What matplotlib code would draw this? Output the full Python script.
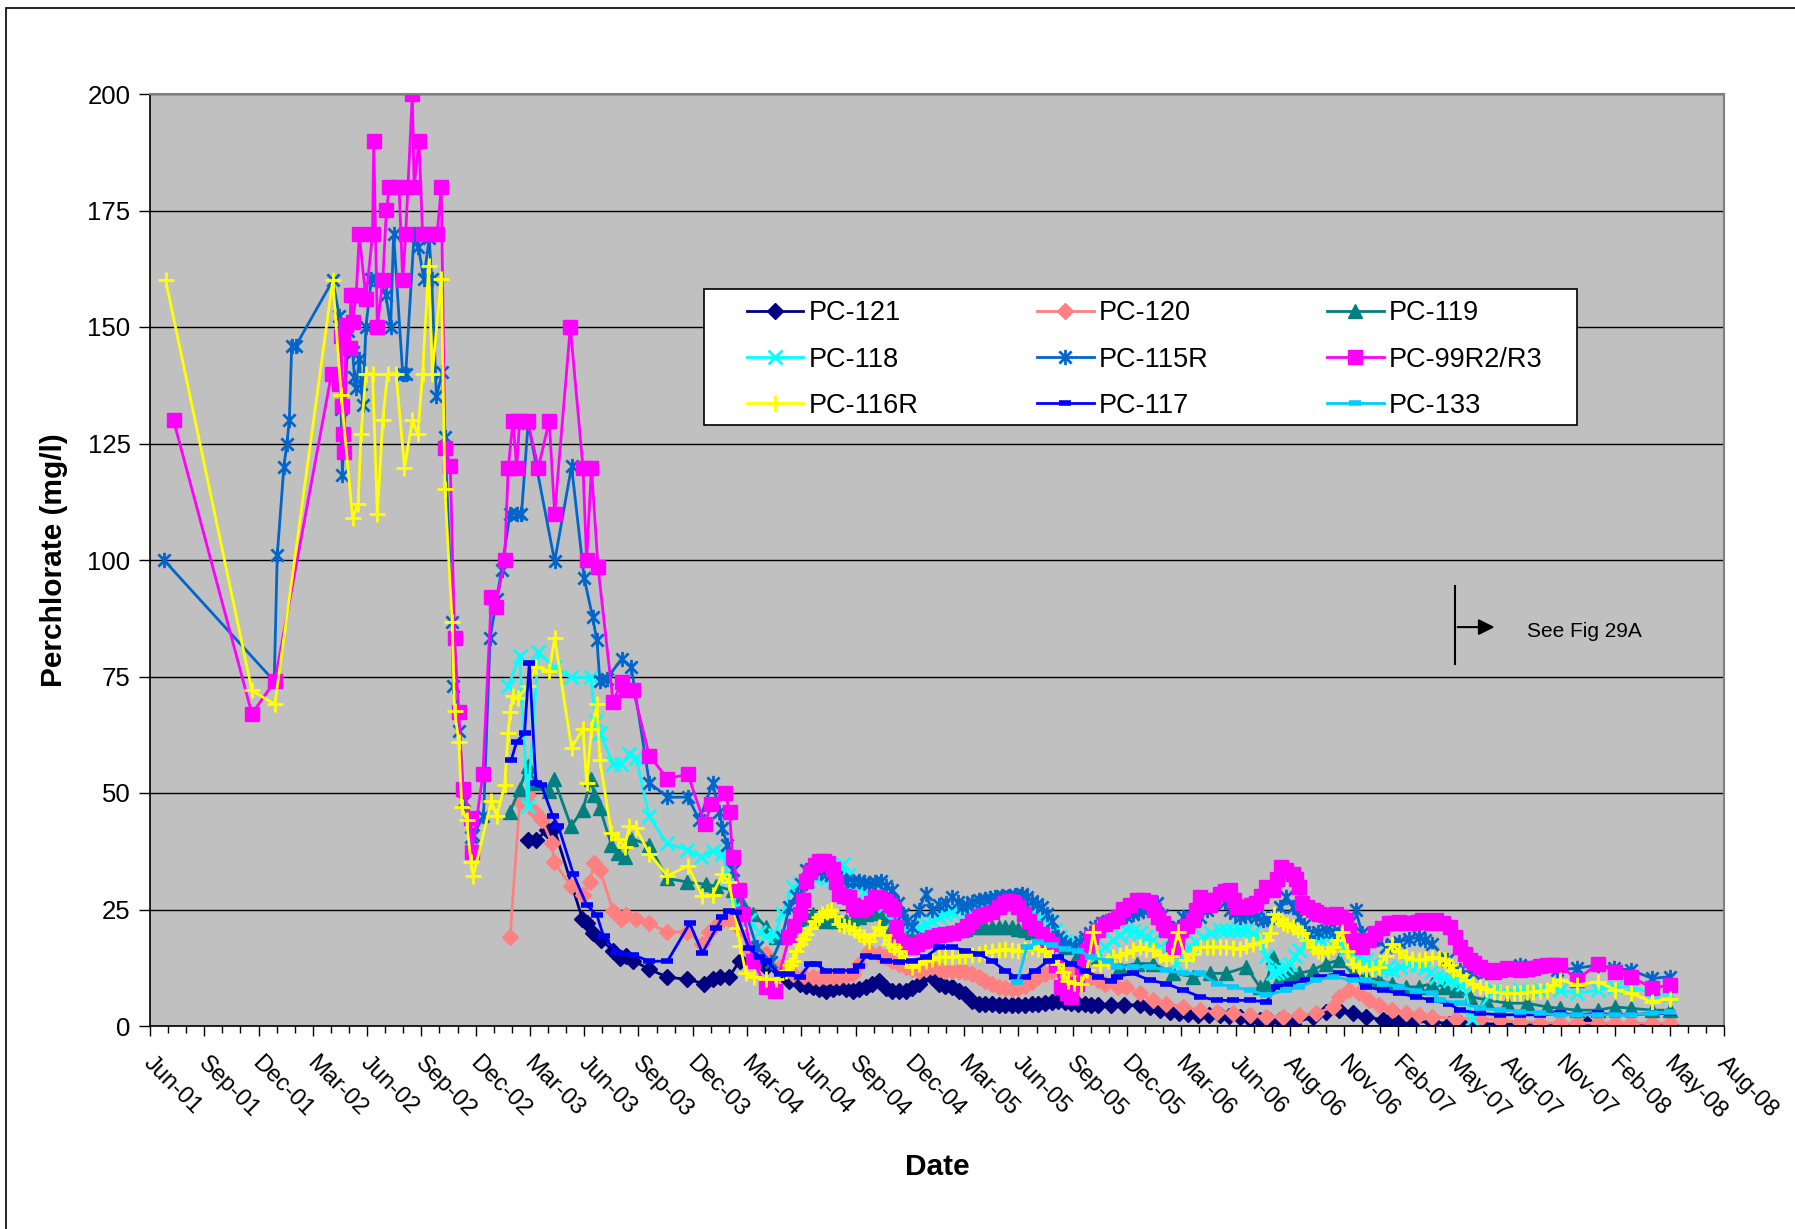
import matplotlib
matplotlib.use('Agg')
import matplotlib.pyplot as plt
import matplotlib.dates as mdates
import matplotlib.transforms as mtransforms
from matplotlib.path import Path
from matplotlib.patches import Rectangle
import pandas as pd

plt.rcParams['font.family'] = ['Liberation Sans', 'DejaVu Sans']

# ---- data: (sample date, perchlorate mg/l) ----
pc121 = [
    ("2003-03-15", 40), ("2003-03-29", 40), ("2003-04-17", 42), ("2003-04-28", 42.4),
    ("2003-06-14", 23), ("2003-06-22", 22), ("2003-07-02", 20), ("2003-07-15", 18.4),
    ("2003-08-04", 16.2), ("2003-08-15", 14.5), ("2003-08-26", 15), ("2003-09-06", 14),
    ("2003-10-03", 12.2), ("2003-11-01", 10.5), ("2003-12-05", 10), ("2004-01-02", 9.1),
    ("2004-01-16", 10), ("2004-01-28", 10.5), ("2004-02-12", 10.5), ("2004-03-01", 14),
    ("2004-03-28", 14.8), ("2004-04-14", 12.6), ("2004-05-06", 11.9), ("2004-05-22", 9.7),
    ("2004-06-08", 9), ("2004-06-30", 8.3), ("2004-07-22", 7.6), ("2004-08-13", 8.3),
    ("2004-09-04", 7.6), ("2004-09-26", 8.3), ("2004-10-18", 9.7), ("2004-11-09", 7.6),
    ("2004-12-01", 7.6), ("2004-12-23", 9), ("2005-01-03", 11.2), ("2005-01-14", 10.5),
    ("2005-01-25", 9), ("2005-02-16", 8.3), ("2005-03-10", 6.9), ("2005-03-21", 5.4),
    ("2005-04-01", 4.7), ("2005-04-23", 4.7), ("2005-05-15", 4.4), ("2005-06-06", 4.4),
    ("2005-06-28", 4.7), ("2005-07-20", 5), ("2005-08-11", 5.4), ("2005-09-02", 5),
    ("2005-09-24", 4.7), ("2005-10-16", 4.6), ("2005-11-07", 4.4), ("2005-11-28", 4.5),
    ("2005-12-24", 4.5), ("2006-01-10", 4), ("2006-01-26", 3.4), ("2006-02-12", 3),
    ("2006-02-28", 2.7), ("2006-03-15", 2.5), ("2006-03-31", 2.3), ("2006-04-18", 2.3),
    ("2006-05-06", 2.3), ("2006-05-22", 2.2), ("2006-06-08", 2), ("2006-06-25", 1.6),
    ("2006-07-11", 1.3), ("2006-07-27", 1.3), ("2006-08-13", 1.3), ("2006-08-25", 1),
    ("2006-09-04", 0.5), ("2006-10-07", 2), ("2006-10-29", 3), ("2006-11-20", 3.4),
    ("2006-12-12", 2.7), ("2007-01-03", 2), ("2007-01-31", 1.3), ("2007-02-10", 1),
    ("2007-02-27", 0.9), ("2007-03-20", 0.9), ("2007-04-23", 0.9), ("2007-05-21", 0.5),
    ("2007-06-08", 0.6), ("2007-07-12", 0.5), ("2007-08-14", 0.4), ("2007-09-16", 0.4),
    ("2007-10-19", 0.4), ("2007-11-21", 0.4), ("2007-12-19", 0.4), ("2008-01-05", 0.4),
    ("2008-02-21", 0.4), ("2008-03-18", 0.4), ("2008-04-22", 0.4), ("2008-05-21", 0.4),
    ("2004-06-19", 8.6), ("2004-07-11", 7.9), ("2004-08-02", 7.9), ("2004-08-24", 8),
    ("2004-09-15", 8), ("2004-10-07", 9), ("2004-10-29", 8.2), ("2004-11-20", 7.6),
    ("2004-12-12", 8.2), ("2005-02-05", 8.6), ("2005-02-27", 7.5), ("2005-04-12", 4.7),
    ("2005-05-04", 4.5), ("2005-05-26", 4.4), ("2005-06-17", 4.5), ("2005-07-09", 4.8),
    ("2005-07-31", 5.2), ("2005-08-22", 5.2), ("2005-09-13", 4.8), ("2005-10-05", 4.6),
]

pc120 = [
    ("2003-02-14", 19), ("2003-03-02", 48), ("2003-03-15", 49.5), ("2003-03-28", 46),
    ("2003-04-08", 44.2), ("2003-04-24", 39.3), ("2003-04-28", 35.3), ("2003-05-26", 30),
    ("2003-06-15", 28.2), ("2003-06-26", 30.9), ("2003-07-03", 34.9), ("2003-07-13", 33.5),
    ("2003-08-04", 24.7), ("2003-08-17", 22.9), ("2003-08-26", 23.8), ("2003-09-11", 22.9),
    ("2003-10-03", 22), ("2003-11-01", 20.2), ("2003-12-05", 20.2), ("2003-12-30", 17.5),
    ("2004-01-10", 20.2), ("2004-01-27", 22), ("2004-02-12", 22.9), ("2004-02-29", 21.1),
    ("2004-03-15", 16.7), ("2004-03-28", 16.2), ("2004-04-14", 15.5), ("2004-05-06", 12.6),
    ("2004-05-28", 11.2), ("2004-06-15", 10.8), ("2004-06-30", 10.5), ("2004-07-22", 10.5),
    ("2004-08-13", 10.5), ("2004-09-04", 11.2), ("2004-09-15", 13.3), ("2004-10-01", 16.2),
    ("2004-10-18", 15.5), ("2004-11-09", 14), ("2004-12-01", 12.6), ("2004-12-23", 11.9),
    ("2005-01-14", 12.6), ("2005-02-05", 11.9), ("2005-02-27", 11.9), ("2005-03-21", 11.2),
    ("2005-04-12", 9.7), ("2005-05-04", 8.3), ("2005-05-26", 8), ("2005-06-17", 8.6),
    ("2005-07-09", 10.5), ("2005-07-31", 11.9), ("2005-08-22", 12.6), ("2005-09-13", 11.9),
    ("2005-10-05", 10.5), ("2005-10-27", 9), ("2005-11-18", 8.3), ("2005-12-02", 8.4),
    ("2005-12-24", 7), ("2006-01-15", 5.5), ("2006-02-06", 4.8), ("2006-03-06", 4.1),
    ("2006-04-03", 3.4), ("2006-05-01", 3), ("2006-05-28", 2.7), ("2006-06-25", 2.3),
    ("2006-07-22", 2), ("2006-08-18", 2), ("2006-09-15", 2.3), ("2006-10-12", 2.7),
    ("2006-11-09", 4.1), ("2006-11-20", 6.3), ("2006-12-07", 7.7), ("2006-12-23", 7),
    ("2007-01-08", 5.5), ("2007-01-25", 4.5), ("2007-02-16", 3.4), ("2007-03-10", 2.7),
    ("2007-04-01", 2.3), ("2007-04-23", 2), ("2007-06-01", 1.6), ("2007-07-12", 1.6),
    ("2007-08-14", 1.2), ("2007-09-16", 0.9), ("2007-10-19", 0.7), ("2007-11-21", 0.6),
    ("2007-12-19", 0.6), ("2008-01-23", 0.6), ("2008-02-21", 0.6), ("2008-03-18", 0.6),
    ("2008-04-22", 0.6), ("2008-05-21", 0.6),
    ("2004-07-11", 10.4), ("2004-08-02", 10.6), ("2004-08-24", 10.8), ("2004-10-28", 14.8),
    ("2004-11-20", 13.2), ("2004-12-12", 12.2), ("2005-01-03", 12.3), ("2005-01-25", 12.2),
    ("2005-02-16", 11.9), ("2005-03-10", 11.6), ("2005-04-01", 10.5), ("2005-04-23", 9),
    ("2005-05-15", 8.1), ("2005-06-06", 8.2), ("2005-06-28", 9.5), ("2005-07-20", 11.2),
    ("2005-08-11", 12.3), ("2005-09-02", 12.3), ("2005-09-24", 11.2), ("2005-10-16", 9.8),
]

pc119 = [
    ("2003-02-14", 46), ("2003-03-02", 50.9), ("2003-03-15", 55.7), ("2003-03-28", 52.2),
    ("2003-04-20", 50.4), ("2003-04-28", 53), ("2003-05-26", 42.9), ("2003-06-15", 46.4),
    ("2003-06-28", 53), ("2003-07-04", 49.5), ("2003-07-13", 46.8), ("2003-08-01", 38.9),
    ("2003-08-12", 37.1), ("2003-08-23", 36.2), ("2003-09-03", 40.2), ("2003-10-03", 38.9),
    ("2003-11-01", 31.7), ("2003-12-05", 30.9), ("2004-01-05", 30.4), ("2004-01-21", 30),
    ("2004-02-18", 29.1), ("2004-03-02", 27.3), ("2004-03-23", 24.1), ("2004-04-14", 21.2),
    ("2004-04-30", 19.1), ("2004-05-22", 20), ("2004-06-08", 22.6), ("2004-06-30", 24.1),
    ("2004-07-22", 22.6), ("2004-08-13", 22.6), ("2004-09-04", 22.6), ("2004-09-26", 24.1),
    ("2004-10-18", 24.4), ("2004-11-09", 21.2), ("2004-12-01", 19.1), ("2004-12-23", 19.1),
    ("2005-01-14", 19.1), ("2005-02-05", 19.8), ("2005-02-27", 20.5), ("2005-03-21", 21.2),
    ("2005-04-12", 21.2), ("2005-05-04", 21.2), ("2005-05-26", 21.2), ("2005-06-17", 20.5),
    ("2005-07-09", 19.8), ("2005-07-31", 19.1), ("2005-08-22", 16.9), ("2005-09-13", 15.5),
    ("2005-10-16", 14.8), ("2005-11-21", 12.7), ("2005-12-19", 13.4), ("2006-01-15", 13.4),
    ("2006-02-17", 11.3), ("2006-03-22", 10.6), ("2006-04-19", 11.3), ("2006-05-17", 11.3),
    ("2006-06-19", 12.7), ("2006-07-11", 8.4), ("2006-07-22", 9.1), ("2006-08-02", 14.8),
    ("2006-08-13", 10.6), ("2006-08-30", 11.3), ("2006-09-15", 11.3), ("2006-10-07", 12),
    ("2006-10-29", 13.4), ("2006-11-20", 14.1), ("2006-12-12", 11.3), ("2007-01-03", 10.6),
    ("2007-01-25", 9.8), ("2007-02-16", 9.1), ("2007-03-10", 8.4), ("2007-04-01", 8.4),
    ("2007-04-23", 9.1), ("2007-05-15", 8.4), ("2007-06-01", 7.7), ("2007-06-25", 6.3),
    ("2007-07-22", 5.6), ("2007-08-25", 4.9), ("2007-09-27", 4.9), ("2007-10-30", 4.1),
    ("2007-11-21", 3.8), ("2007-12-19", 3.4), ("2008-01-23", 3.4), ("2008-02-21", 4.1),
    ("2008-03-18", 3.8), ("2008-04-22", 3.4), ("2008-05-21", 3.4),
    ("2004-06-19", 23.4), ("2004-07-11", 23.3), ("2004-08-02", 22.6), ("2004-08-24", 22.6),
    ("2004-09-15", 23.4), ("2004-10-07", 24.3), ("2004-10-29", 22.8), ("2004-11-20", 20),
    ("2004-12-12", 19.1), ("2005-01-03", 19.1), ("2005-01-25", 19.5), ("2005-02-16", 20.1),
    ("2005-03-10", 20.9), ("2005-04-01", 21.2), ("2005-04-23", 21.2), ("2005-05-15", 21.2),
    ("2005-06-06", 20.8), ("2005-06-28", 20.1), ("2005-07-20", 19.4), ("2005-08-11", 18),
]

pc118 = [
    ("2003-02-11", 73), ("2003-03-02", 79.3), ("2003-03-15", 47.3), ("2003-04-02", 80.2),
    ("2003-04-28", 77), ("2003-05-26", 74.8), ("2003-06-28", 74.8), ("2003-07-06", 65.5),
    ("2003-07-13", 62.8), ("2003-08-04", 56.2), ("2003-08-17", 56.2), ("2003-08-31", 58.4),
    ("2003-09-11", 57.5), ("2003-10-03", 45), ("2003-11-01", 39.2), ("2003-12-05", 37.8),
    ("2003-12-28", 36.2), ("2004-01-16", 37.5), ("2004-02-01", 37), ("2004-02-12", 31.7),
    ("2004-02-24", 25.5), ("2004-03-16", 22.8), ("2004-04-02", 20.1), ("2004-04-13", 19.3),
    ("2004-04-28", 19.5), ("2004-05-28", 29.8), ("2004-06-22", 31.2), ("2004-07-17", 32.3),
    ("2004-08-02", 31.2), ("2004-08-19", 34.8), ("2004-09-04", 30.5), ("2004-09-26", 29.1),
    ("2004-10-18", 30.5), ("2004-11-09", 22.6), ("2004-12-01", 21.2), ("2004-12-23", 21.2),
    ("2005-01-14", 22.6), ("2005-02-05", 24), ("2005-02-27", 24.8), ("2005-03-26", 25.5),
    ("2005-04-23", 26.9), ("2005-05-21", 26.9), ("2005-06-17", 25.5), ("2005-07-14", 23.4),
    ("2005-08-05", 20.5), ("2005-08-22", 18.3), ("2005-09-18", 17.6), ("2005-10-16", 15.5),
    ("2005-11-10", 18.4), ("2005-12-02", 20.6), ("2005-12-24", 19.9), ("2006-01-15", 18.4),
    ("2006-02-06", 15.6), ("2006-02-22", 13.4), ("2006-03-16", 17), ("2006-04-08", 19.1),
    ("2006-05-06", 20.6), ("2006-05-28", 20.6), ("2006-06-19", 20.6), ("2006-07-11", 19.1),
    ("2006-08-02", 11.3), ("2006-08-16", 12), ("2006-08-30", 13.4), ("2006-09-15", 16.3),
    ("2006-10-07", 18.4), ("2006-10-29", 19.1), ("2006-11-20", 17.7), ("2006-12-12", 15.6),
    ("2007-01-03", 14.1), ("2007-01-25", 12.7), ("2007-02-16", 12), ("2007-03-16", 13.4),
    ("2007-04-12", 12.5), ("2007-04-30", 10.6), ("2007-05-22", 9.9), ("2007-06-14", 9.1),
    ("2007-06-28", 1.6), ("2007-08-03", 7.7), ("2007-09-16", 7.7), ("2007-10-19", 7.7),
    ("2007-11-21", 7.7), ("2007-12-19", 7), ("2008-01-23", 7.7), ("2008-02-21", 8.4),
    ("2008-03-18", 8.4), ("2008-04-22", 7), ("2008-05-21", 6.6),
    ("2004-05-10", 24), ("2004-06-08", 30.5), ("2004-07-05", 31.8), ("2004-07-25", 31.7),
    ("2004-08-10", 33), ("2004-08-27", 32.5), ("2004-09-15", 29.8), ("2004-10-07", 29.8),
    ("2004-10-28", 26), ("2004-11-20", 21.9), ("2004-12-12", 21.2), ("2005-01-03", 21.9),
    ("2005-01-25", 23.3), ("2005-02-16", 24.4), ("2005-03-12", 25.2), ("2005-04-09", 26.2),
    ("2005-05-07", 26.9), ("2005-06-04", 26.2), ("2005-06-30", 24.5), ("2005-07-25", 22),
    ("2005-08-14", 19.4), ("2005-09-05", 18), ("2005-10-02", 16.5), ("2005-10-28", 17),
    ("2005-11-21", 19.5), ("2005-12-13", 20.3), ("2006-01-04", 19.2), ("2006-01-26", 17),
    ("2006-03-05", 15), ("2006-03-27", 18), ("2006-04-22", 19.9), ("2006-05-17", 20.6),
    ("2006-06-08", 20.6), ("2006-06-30", 19.9), ("2006-07-22", 15), ("2006-08-09", 11.6),
    ("2006-08-23", 12.7), ("2006-09-07", 15), ("2006-09-26", 17.3), ("2006-10-18", 18.8),
    ("2006-11-09", 18.4), ("2006-12-01", 16.6), ("2006-12-23", 14.8), ("2007-01-14", 13.4),
    ("2007-02-05", 12.3), ("2007-03-01", 12.7), ("2007-03-29", 13), ("2007-04-21", 11.5),
    ("2007-05-11", 10.2), ("2007-06-03", 9.5),
]

pc115r = [
    ("2001-07-20", 100), ("2002-01-19", 74), ("2002-01-24", 101), ("2002-02-04", 120),
    ("2002-02-09", 125), ("2002-02-13", 130), ("2002-02-17", 146), ("2002-02-24", 146),
    ("2002-04-26", 160), ("2002-05-07", 152.3), ("2002-05-10", 132.4), ("2002-05-12", 118.2),
    ("2002-05-21", 149.2), ("2002-05-29", 144.6), ("2002-06-01", 139.3), ("2002-06-04", 137),
    ("2002-06-09", 143.1), ("2002-06-12", 137.7), ("2002-06-15", 133.2), ("2002-06-20", 150),
    ("2002-06-29", 160.3), ("2002-07-12", 160), ("2002-07-23", 156.9), ("2002-07-31", 150),
    ("2002-08-05", 169.9), ("2002-08-20", 140), ("2002-08-25", 140), ("2002-09-08", 169.9),
    ("2002-09-15", 167.2), ("2002-09-24", 160.3), ("2002-10-03", 169.1), ("2002-10-07", 160.3),
    ("2002-10-15", 135.1), ("2002-10-25", 140.4), ("2002-10-29", 126.3), ("2002-11-10", 86.8),
    ("2002-11-12", 73), ("2002-11-22", 63.3), ("2002-11-29", 48.2), ("2002-12-11", 40.6),
    ("2002-12-15", 41), ("2003-01-01", 45), ("2003-01-12", 83.3), ("2003-01-23", 91.7),
    ("2003-01-31", 97.9), ("2003-02-14", 109.9), ("2003-02-25", 109.9), ("2003-03-05", 109.9),
    ("2003-03-16", 129.4), ("2003-04-29", 99.7), ("2003-05-27", 120.1), ("2003-06-17", 96.1),
    ("2003-07-01", 87.7), ("2003-07-08", 82.8), ("2003-07-13", 74), ("2003-07-24", 74.4),
    ("2003-08-18", 78.8), ("2003-09-03", 77), ("2003-10-03", 52.2), ("2003-11-02", 49.1),
    ("2003-12-06", 49.1), ("2003-12-25", 44.2), ("2004-01-16", 52.2), ("2004-01-27", 46),
    ("2004-02-01", 42.4), ("2004-02-09", 38.9), ("2004-02-18", 33.5), ("2004-03-29", 16.9),
    ("2004-04-22", 13.7), ("2004-05-22", 25.5), ("2004-06-02", 28), ("2004-06-19", 33.4),
    ("2004-07-05", 33.7), ("2004-07-22", 32.7), ("2004-08-08", 31.9), ("2004-08-24", 31.2),
    ("2004-09-15", 31.2), ("2004-10-01", 30.5), ("2004-10-21", 31.2), ("2004-11-09", 29.1),
    ("2004-11-26", 24), ("2004-12-12", 21.2), ("2005-01-03", 28.4), ("2005-01-14", 24.8),
    ("2005-02-16", 27.7), ("2005-03-05", 25.5), ("2005-03-21", 26.6), ("2005-04-12", 27.3),
    ("2005-04-29", 27.7), ("2005-05-21", 28), ("2005-06-12", 28.4), ("2005-06-28", 26.9),
    ("2005-07-15", 25.5), ("2005-07-31", 22.6), ("2005-08-11", 19.1), ("2005-08-22", 17.6),
    ("2005-09-08", 16.9), ("2005-09-24", 19.1), ("2005-10-11", 21.2), ("2005-11-02", 22.6),
    ("2005-11-21", 23.4), ("2005-12-13", 24.1), ("2005-12-30", 24.9), ("2006-01-21", 26.3),
    ("2006-02-06", 21.3), ("2006-02-17", 19.1), ("2006-03-06", 23.4), ("2006-04-03", 23.4),
    ("2006-04-25", 26.3), ("2006-05-06", 28.4), ("2006-05-23", 24.9), ("2006-06-08", 23.4),
    ("2006-06-25", 24.1), ("2006-07-16", 22.7), ("2006-08-02", 23.4), ("2006-08-24", 27.7),
    ("2006-09-15", 23.4), ("2006-10-01", 19.9), ("2006-10-29", 20.6), ("2006-11-25", 19.9),
    ("2006-12-17", 24.9), ("2006-12-28", 19.9), ("2007-02-05", 17), ("2007-02-27", 18.1),
    ("2007-04-01", 19.1), ("2007-04-23", 17.7), ("2007-05-17", 14.1), ("2007-06-08", 12),
    ("2007-06-30", 11.3), ("2007-07-22", 11.6), ("2007-08-13", 12), ("2007-09-16", 13.1),
    ("2007-10-13", 12.7), ("2007-11-16", 12), ("2007-12-19", 12.4), ("2008-01-23", 13.1),
    ("2008-02-18", 12.4), ("2008-03-18", 12), ("2008-04-22", 10.2), ("2008-05-21", 10.6),
    ("2004-05-10", 19), ("2004-06-10", 30.5), ("2004-06-27", 33.5), ("2004-07-13", 33.2),
    ("2004-07-30", 32.3), ("2004-08-16", 31.5), ("2004-09-04", 31.2), ("2004-09-23", 30.8),
    ("2004-10-11", 30.8), ("2004-10-30", 30), ("2004-11-18", 26.5), ("2004-12-04", 22.6),
    ("2004-12-23", 25), ("2005-01-25", 26), ("2005-02-06", 26.5), ("2005-02-26", 26.6),
    ("2005-03-13", 26), ("2005-04-01", 27), ("2005-04-20", 27.5), ("2005-05-10", 27.8),
    ("2005-06-01", 28.2), ("2005-06-20", 27.6), ("2005-07-07", 26.2), ("2005-07-23", 24),
    ("2005-08-16", 18.3), ("2005-08-30", 17.2), ("2005-09-16", 18), ("2005-10-02", 20),
    ("2005-10-22", 22), ("2005-11-12", 23), ("2005-12-02", 23.7), ("2005-12-21", 24.5),
    ("2006-01-10", 25.6), ("2006-01-30", 23.8), ("2006-02-25", 21.2), ("2006-03-20", 23.4),
    ("2006-04-14", 24.9), ("2006-05-15", 26.6), ("2006-05-31", 24.2), ("2006-06-17", 23.8),
    ("2006-07-05", 23.4), ("2006-07-24", 23), ("2006-08-13", 25.5), ("2006-09-04", 25.5),
    ("2006-09-23", 21.6), ("2006-10-15", 20.2), ("2006-11-12", 20.2), ("2006-12-06", 22),
    ("2007-01-15", 18.5), ("2007-02-16", 17.5), ("2007-03-15", 18.6), ("2007-04-12", 18.4),
]

pc99 = [
    ("2001-08-05", 130), ("2001-12-13", 67), ("2002-01-20", 74), ("2002-04-24", 140),
    ("2002-05-07", 137.7), ("2002-05-10", 148), ("2002-05-12", 133), ("2002-05-13", 127),
    ("2002-05-15", 123.2), ("2002-05-18", 150.4), ("2002-05-24", 145.4), ("2002-05-26", 156.9),
    ("2002-05-29", 151.1), ("2002-06-04", 156.9), ("2002-06-09", 169.9), ("2002-06-20", 156.1),
    ("2002-07-01", 169.9), ("2002-07-03", 190), ("2002-07-09", 150), ("2002-07-18", 160.1),
    ("2002-07-24", 175.1), ("2002-07-29", 180), ("2002-08-14", 180), ("2002-08-20", 160.1),
    ("2002-08-25", 169.9), ("2002-09-05", 200), ("2002-09-08", 180), ("2002-09-16", 190),
    ("2002-09-22", 169.9), ("2002-10-08", 169.9), ("2002-10-16", 169.9), ("2002-10-23", 180),
    ("2002-10-29", 124.1), ("2002-11-07", 120.1), ("2002-11-14", 83.3), ("2002-11-21", 67.3),
    ("2002-11-28", 50.8), ("2002-12-11", 44.6), ("2002-12-13", 37.3), ("2002-12-31", 54),
    ("2003-01-14", 92.1), ("2003-01-21", 89.9), ("2003-02-05", 100), ("2003-02-11", 119.8),
    ("2003-02-19", 129.9), ("2003-02-25", 119.8), ("2003-03-02", 129.9), ("2003-03-15", 129.9),
    ("2003-04-02", 119.8), ("2003-04-20", 129.9), ("2003-04-29", 109.9), ("2003-05-25", 150),
    ("2003-06-15", 119.8), ("2003-06-21", 100), ("2003-06-29", 119.8), ("2003-07-10", 98.4),
    ("2003-08-04", 69.5), ("2003-08-18", 73.9), ("2003-08-26", 72.2), ("2003-09-06", 72.2),
    ("2003-10-03", 58), ("2003-11-02", 53.1), ("2003-12-06", 54), ("2004-01-03", 43.3),
    ("2004-01-14", 47.7), ("2004-02-06", 50), ("2004-02-13", 46), ("2004-02-18", 36.2),
    ("2004-02-29", 29.1), ("2004-03-07", 24.1), ("2004-03-23", 14), ("2004-04-14", 8.3),
    ("2004-04-28", 7.6), ("2004-05-22", 19.1), ("2004-06-08", 24.1), ("2004-06-19", 31.2),
    ("2004-07-03", 34.5), ("2004-07-19", 35.5), ("2004-08-02", 33.7), ("2004-08-13", 28.4),
    ("2004-08-29", 27.7), ("2004-09-09", 25.1), ("2004-09-26", 25.5), ("2004-10-12", 27.7),
    ("2004-10-29", 26.9), ("2004-11-12", 25.1), ("2004-11-15", 21.2), ("2004-11-20", 18.3),
    ("2004-12-12", 16.9), ("2004-12-29", 18.3), ("2005-01-14", 19.1), ("2005-02-05", 19.8),
    ("2005-03-05", 20.5), ("2005-03-21", 22.6), ("2005-04-12", 24), ("2005-05-04", 25.5),
    ("2005-05-21", 26.9), ("2005-06-06", 25.5), ("2005-06-23", 22.6), ("2005-07-15", 19.8),
    ("2005-07-31", 17.6), ("2005-08-16", 8.3), ("2005-09-02", 6.2), ("2005-09-19", 12.6),
    ("2005-10-05", 19.1), ("2005-10-27", 21.9), ("2005-11-18", 23.4), ("2005-11-27", 25.2),
    ("2005-12-19", 27), ("2006-01-10", 26.6), ("2006-01-24", 23.4), ("2006-02-06", 20.6),
    ("2006-02-17", 16.3), ("2006-03-03", 20.6), ("2006-03-22", 22.7), ("2006-04-03", 27.7),
    ("2006-04-19", 25.9), ("2006-05-06", 28.4), ("2006-05-23", 29.1), ("2006-06-03", 25.6),
    ("2006-06-19", 25.6), ("2006-07-05", 26.3), ("2006-07-22", 29.9), ("2006-08-02", 29.1),
    ("2006-08-16", 34.2), ("2006-09-04", 32.7), ("2006-09-15", 29.9), ("2006-09-20", 26.3),
    ("2006-10-07", 24.9), ("2006-10-18", 24.1), ("2006-11-04", 23.4), ("2006-11-15", 24.1),
    ("2006-12-01", 22.7), ("2006-12-12", 18.4), ("2006-12-28", 17), ("2007-01-19", 19.9),
    ("2007-02-10", 22), ("2007-02-27", 22.4), ("2007-03-21", 22), ("2007-04-06", 22.7),
    ("2007-04-23", 22), ("2007-04-30", 22.7), ("2007-05-22", 21.3), ("2007-06-08", 17),
    ("2007-06-25", 14.1), ("2007-07-12", 12.7), ("2007-08-03", 11.6), ("2007-08-25", 12.4),
    ("2007-09-16", 12), ("2007-10-08", 12.4), ("2007-10-30", 13.1), ("2007-11-21", 13.1),
    ("2007-12-19", 9.9), ("2008-01-23", 13.4), ("2008-02-21", 11.6), ("2008-03-18", 10.6),
    ("2008-04-22", 8.1), ("2008-05-21", 8.8),
    ("2004-05-30", 21.5), ("2004-06-13", 27), ("2004-06-26", 33), ("2004-07-11", 35.5),
    ("2004-07-26", 35), ("2004-08-08", 31), ("2004-08-21", 28), ("2004-09-04", 26),
    ("2004-09-18", 25), ("2004-10-04", 26.5), ("2004-10-20", 27.5), ("2004-11-05", 26),
    ("2004-12-05", 17.5), ("2004-12-20", 17.5), ("2005-01-06", 18.5), ("2005-01-25", 19.5),
    ("2005-02-18", 20), ("2005-03-13", 21.5), ("2005-04-01", 23.5), ("2005-04-23", 24.5),
    ("2005-05-13", 26.5), ("2005-05-29", 26.5), ("2005-06-15", 24), ("2005-07-04", 21),
    ("2005-07-23", 18.5), ("2005-08-08", 13), ("2005-08-25", 7), ("2005-09-11", 9),
    ("2005-09-27", 16), ("2005-10-16", 20.5), ("2005-11-08", 22.5), ("2005-12-08", 26),
    ("2005-12-30", 27), ("2006-01-17", 25), ("2006-01-31", 22), ("2006-02-24", 18),
    ("2006-03-12", 21.5), ("2006-03-28", 25), ("2006-04-11", 27), ("2006-04-27", 27),
    ("2006-05-14", 29), ("2006-05-29", 27), ("2006-06-11", 25.6), ("2006-06-27", 26),
    ("2006-07-14", 28), ("2006-07-28", 29.5), ("2006-08-09", 31.5), ("2006-08-24", 33.5),
    ("2006-09-09", 31.5), ("2006-09-28", 25.5), ("2006-10-12", 24.5), ("2006-10-27", 23.8),
    ("2006-11-10", 23.8), ("2006-11-23", 23.4), ("2006-12-06", 20.5), ("2006-12-20", 17.5),
    ("2007-01-08", 18.5), ("2007-01-30", 21), ("2007-02-19", 22.2), ("2007-03-10", 22.2),
    ("2007-03-30", 22.3), ("2007-04-14", 22.3), ("2007-05-11", 22), ("2007-05-31", 19),
    ("2007-06-17", 15.5), ("2007-07-02", 13.5), ("2007-07-22", 12), ("2007-08-14", 12),
    ("2007-09-05", 12.2), ("2007-09-27", 12.2), ("2007-10-19", 12.8), ("2007-11-10", 13.1),
]

pc116r = [
    ("2001-07-23", 160), ("2001-12-13", 72), ("2002-01-20", 69), ("2002-04-26", 160),
    ("2002-05-10", 135.5), ("2002-05-29", 109), ("2002-06-07", 112.1), ("2002-06-12", 127),
    ("2002-06-20", 140), ("2002-07-01", 140), ("2002-07-09", 109.8), ("2002-07-18", 130.1),
    ("2002-07-26", 140), ("2002-08-09", 140), ("2002-08-23", 119.8), ("2002-09-05", 130.1),
    ("2002-09-14", 127), ("2002-09-22", 140), ("2002-10-02", 163), ("2002-10-08", 140),
    ("2002-10-23", 160.3), ("2002-10-29", 115.2), ("2002-11-10", 86.8), ("2002-11-14", 67.7),
    ("2002-11-21", 61), ("2002-11-26", 46.9), ("2002-12-04", 44.2), ("2002-12-11", 35.3),
    ("2002-12-15", 32.2), ("2003-01-14", 48.2), ("2003-01-23", 45), ("2003-02-05", 51.7),
    ("2003-02-11", 62.8), ("2003-02-14", 67.3), ("2003-02-19", 70.8), ("2003-02-27", 70.4),
    ("2003-03-15", 73), ("2003-03-29", 77), ("2003-04-20", 76.2), ("2003-04-29", 83.3),
    ("2003-05-27", 59.7), ("2003-06-15", 63.7), ("2003-06-21", 52.2), ("2003-06-29", 63.7),
    ("2003-07-08", 69), ("2003-07-13", 57.1), ("2003-08-01", 41.5), ("2003-08-12", 40.2),
    ("2003-08-23", 38.4), ("2003-08-31", 42.9), ("2003-09-11", 42.4), ("2003-10-03", 37),
    ("2003-11-02", 32.2), ("2003-12-06", 34.4), ("2003-12-30", 27.8), ("2004-01-16", 28.2),
    ("2004-02-01", 32.6), ("2004-02-12", 30.9), ("2004-02-26", 21.1), ("2004-03-02", 17.1),
    ("2004-03-11", 11.3), ("2004-03-24", 10.5), ("2004-04-13", 10), ("2004-04-30", 10),
    ("2004-05-17", 11.9), ("2004-05-28", 14), ("2004-06-08", 17.6), ("2004-06-19", 19.8),
    ("2004-07-03", 22.6), ("2004-07-16", 24.1), ("2004-07-30", 24.8), ("2004-08-13", 21.9),
    ("2004-08-29", 21.2), ("2004-09-15", 19.8), ("2004-10-01", 18.3), ("2004-10-18", 21.2),
    ("2004-11-04", 17.6), ("2004-11-20", 16.2), ("2004-12-12", 12.6), ("2005-01-03", 14),
    ("2005-01-25", 14.8), ("2005-02-16", 14.8), ("2005-03-10", 15.1), ("2005-04-01", 15.5),
    ("2005-04-23", 16.2), ("2005-05-15", 16.5), ("2005-06-06", 16.2), ("2005-06-28", 16.9),
    ("2005-07-20", 16.2), ("2005-08-11", 13.3), ("2005-08-27", 9.7), ("2005-09-18", 9),
    ("2005-10-08", 20.1), ("2005-10-20", 13), ("2005-11-10", 14.8), ("2005-12-02", 15.6),
    ("2005-12-24", 17), ("2006-01-15", 16.3), ("2006-02-06", 14.1), ("2006-02-25", 20.2),
    ("2006-03-11", 14.1), ("2006-04-03", 17), ("2006-04-25", 17), ("2006-05-17", 17),
    ("2006-06-08", 16.6), ("2006-06-30", 17.7), ("2006-07-22", 18.4), ("2006-08-04", 24.1),
    ("2006-08-18", 22), ("2006-09-04", 21.3), ("2006-09-20", 19.9), ("2006-10-07", 17),
    ("2006-10-23", 15.6), ("2006-11-09", 17), ("2006-11-25", 20.2), ("2006-12-12", 13.4),
    ("2007-01-03", 12), ("2007-01-25", 12.7), ("2007-02-16", 17.7), ("2007-03-10", 14.8),
    ("2007-04-01", 14.1), ("2007-04-23", 14.8), ("2007-05-15", 14.1), ("2007-05-28", 12),
    ("2007-06-19", 9.9), ("2007-07-12", 8.4), ("2007-08-03", 7.4), ("2007-08-25", 7),
    ("2007-09-16", 7), ("2007-10-08", 7.4), ("2007-10-30", 7.7), ("2007-11-21", 9.9),
    ("2007-12-19", 8.8), ("2008-01-23", 9.5), ("2008-02-21", 7.7), ("2008-03-18", 7),
    ("2008-04-22", 5.2), ("2008-05-21", 5.9),
    ("2004-05-23", 13), ("2004-06-03", 16), ("2004-06-14", 18.7), ("2004-06-26", 21),
    ("2004-07-10", 23.4), ("2004-07-23", 24.5), ("2004-08-06", 23.5), ("2004-08-21", 21.5),
    ("2004-09-07", 20.5), ("2004-09-23", 19), ("2004-10-10", 19.8), ("2004-10-26", 19.5),
    ("2004-11-12", 17), ("2004-12-01", 14.5), ("2004-12-23", 13.3), ("2005-01-14", 14.4),
    ("2005-02-05", 14.8), ("2005-02-27", 15), ("2005-03-21", 15.3), ("2005-04-12", 15.8),
    ("2005-05-04", 16.4), ("2005-05-26", 16.4), ("2005-06-17", 16.5), ("2005-07-09", 16.5),
    ("2005-07-31", 14.8), ("2005-08-19", 11.5), ("2005-09-06", 9.3), ("2005-09-28", 12),
    ("2005-11-01", 14), ("2005-11-21", 15.2), ("2005-12-13", 16.3), ("2006-01-04", 16.6),
    ("2006-01-26", 15.2), ("2006-02-16", 15), ("2006-03-22", 15.5), ("2006-04-14", 17),
    ("2006-05-06", 17), ("2006-05-28", 16.8), ("2006-06-19", 17.1), ("2006-07-11", 18),
    ("2006-07-29", 20), ("2006-08-11", 23), ("2006-08-26", 21.6), ("2006-09-12", 20.5),
    ("2006-09-28", 18.5), ("2006-10-15", 16.2), ("2006-11-01", 16.2), ("2006-11-17", 18.5),
    ("2006-12-03", 16), ("2006-12-22", 12.7), ("2007-01-14", 12.3), ("2007-02-05", 15),
    ("2007-02-27", 16), ("2007-03-21", 14.4), ("2007-04-12", 14.4), ("2007-05-04", 14.5),
    ("2007-05-21", 13), ("2007-06-08", 11), ("2007-06-30", 9.1), ("2007-07-22", 7.9),
    ("2007-08-14", 7.2), ("2007-09-05", 7), ("2007-09-27", 7.2), ("2007-10-19", 7.5),
    ("2007-11-10", 8.8),
]

pc117 = [
    ("2003-02-16", 57.1), ("2003-02-25", 61), ("2003-03-10", 62.8), ("2003-03-18", 77.9),
    ("2003-03-29", 52.2), ("2003-04-07", 51.7), ("2003-04-26", 45), ("2003-05-05", 42.9),
    ("2003-05-30", 32.6), ("2003-06-21", 26), ("2003-07-08", 23.8), ("2003-07-19", 19.3),
    ("2003-08-10", 15.7), ("2003-09-06", 15.3), ("2003-10-03", 13.9), ("2003-11-02", 13.9),
    ("2003-12-09", 22), ("2003-12-30", 15.7), ("2004-01-22", 21), ("2004-02-01", 23.3),
    ("2004-02-12", 24.7), ("2004-02-23", 24.5), ("2004-03-16", 16.7), ("2004-04-02", 14.9),
    ("2004-04-14", 14), ("2004-05-06", 11.2), ("2004-05-22", 11.2), ("2004-06-08", 10.5),
    ("2004-06-25", 13.3), ("2004-07-05", 13.3), ("2004-07-22", 11.9), ("2004-08-13", 11.9),
    ("2004-09-04", 11.9), ("2004-09-15", 12.9), ("2004-09-26", 15.1), ("2004-10-12", 14.8),
    ("2004-10-29", 14), ("2004-11-20", 13.7), ("2004-12-12", 14), ("2005-01-03", 14.8),
    ("2005-01-25", 16.9), ("2005-02-16", 16.9), ("2005-03-10", 16.2), ("2005-04-01", 15.5),
    ("2005-04-23", 14), ("2005-05-15", 11.9), ("2005-06-01", 10.5), ("2005-06-17", 10.5),
    ("2005-07-04", 11.9), ("2005-07-26", 14), ("2005-08-11", 14.8), ("2005-09-02", 13.3),
    ("2005-09-24", 11.9), ("2005-10-16", 10.5), ("2005-11-07", 9.7), ("2005-11-16", 10.6),
    ("2005-12-13", 11.3), ("2006-01-10", 9.8), ("2006-02-06", 9.1), ("2006-03-06", 7.7),
    ("2006-04-03", 6.3), ("2006-05-01", 5.5), ("2006-05-28", 5.5), ("2006-06-25", 5.5),
    ("2006-07-22", 5.2), ("2006-08-08", 8.4), ("2006-08-30", 9.1), ("2006-09-26", 9.8),
    ("2006-10-18", 10.6), ("2006-11-20", 11.3), ("2006-12-12", 10.6), ("2007-01-03", 8.4),
    ("2007-01-31", 7.7), ("2007-02-27", 7), ("2007-03-27", 6.3), ("2007-04-23", 5.5),
    ("2007-05-21", 4.8), ("2007-06-08", 3.4), ("2007-07-12", 2.7), ("2007-08-14", 2.4),
    ("2007-09-16", 2.4), ("2007-10-19", 2.4), ("2007-11-21", 2.7), ("2007-12-19", 2.4),
    ("2008-01-23", 2.7), ("2008-02-21", 2.4), ("2008-03-18", 2.4), ("2008-04-22", 2.7),
    ("2008-05-21", 2.7),
]

pc133 = [
    ("2005-06-04", 9.4), ("2005-06-20", 16.9), ("2005-07-09", 18), ("2005-07-31", 17.3),
    ("2005-08-22", 16.5), ("2005-09-13", 16.2), ("2005-10-05", 14.8), ("2005-11-01", 14),
    ("2005-11-16", 12.7), ("2005-12-13", 12.7), ("2006-01-10", 12.7), ("2006-02-06", 12),
    ("2006-03-06", 11.3), ("2006-04-03", 11.3), ("2006-05-01", 9.1), ("2006-05-28", 8.4),
    ("2006-06-25", 7.7), ("2006-07-22", 6.6), ("2006-08-24", 7.7), ("2006-09-15", 8.4),
    ("2006-10-12", 9.8), ("2006-11-09", 10.6), ("2006-12-12", 9.8), ("2007-01-03", 9.8),
    ("2007-01-31", 9.1), ("2007-02-27", 8.4), ("2007-03-27", 7.6), ("2007-04-23", 7),
    ("2007-05-06", 5.6), ("2007-06-08", 4.9), ("2007-07-12", 3.8), ("2007-08-14", 3.4),
    ("2007-09-16", 3.1), ("2007-10-19", 2.7), ("2007-11-21", 2.4), ("2007-12-19", 2.4),
    ("2008-01-23", 2.4), ("2008-02-21", 2.4), ("2008-03-18", 2.4), ("2008-04-22", 2.7),
    ("2008-05-21", 2.9),
]

# Excel-style asterisk marker (x plus vertical bar)
star = Path([(-1, -1), (1, 1), (-1, 1), (1, -1), (0, -1.25), (0, 1.25)],
            [Path.MOVETO, Path.LINETO, Path.MOVETO, Path.LINETO, Path.MOVETO, Path.LINETO])

series = [
    ("PC-121", pc121, dict(color="#000080", marker="D", ms=8.5, mfc="#000080")),
    ("PC-120", pc120, dict(color="#FF8080", marker="D", ms=8.5, mfc="#FF8080")),
    ("PC-119", pc119, dict(color="#008080", marker="^", ms=10, mfc="#008080")),
    ("PC-118", pc118, dict(color="#00FFFF", marker="x", ms=10, mew=2)),
    ("PC-115R", pc115r, dict(color="#0066CC", marker=star, ms=11, mew=2, mfc="none")),
    ("PC-99R2/R3", pc99, dict(color="#FF00FF", marker="s", ms=10, mfc="#FF00FF")),
    ("PC-116R", pc116r, dict(color="#FFFF00", marker="+", ms=12, mew=2)),
    ("PC-117", pc117, dict(color="#0000FF", marker="_", ms=9, mew=4)),
    ("PC-133", pc133, dict(color="#00CCFF", marker="_", ms=9, mew=4)),
]

fig = plt.figure(figsize=(17.95, 12.29), dpi=100)
ax = fig.add_axes([150 / 1795, 1 - 1026 / 1229, 1574 / 1795, 932 / 1229])
ax.set_facecolor("#C0C0C0")

handles = {}
for name, rows, st in series:
    df = pd.DataFrame(rows, columns=["date", "val"])
    df["date"] = pd.to_datetime(df["date"])
    df = df.sort_values("date")
    st = dict(st)
    col = st.pop("color")
    ln, = ax.plot(df["date"], df["val"], color=col, lw=2, mec=col, **st)
    handles[name] = ln

start = pd.Timestamp("2001-06-27")
end = pd.Timestamp("2008-08-19")
ax.set_xlim(start, end)
ax.set_ylim(0, 200)

major = pd.date_range(start, end, freq="90D")
minor = pd.date_range(start, end, freq="30D")
ax.xaxis.set_major_locator(matplotlib.ticker.FixedLocator(mdates.date2num(major)))
ax.xaxis.set_minor_locator(matplotlib.ticker.FixedLocator(mdates.date2num(minor)))
ax.xaxis.set_major_formatter(mdates.DateFormatter("%b-%y"))
ax.set_yticks(range(0, 201, 25))

ax.yaxis.grid(True, color="black", lw=1)
ax.set_axisbelow(True)
ax.tick_params(axis="y", direction="out", length=8, width=1, labelsize=18.5, pad=6)
ax.tick_params(axis="x", which="major", direction="out", length=7, width=1,
               labelsize=17, pad=12)
ax.tick_params(axis="x", which="minor", direction="out", length=5, width=1)
shift = mtransforms.ScaledTranslation(5 / 100, 0, fig.dpi_scale_trans)
for lab in ax.get_xticklabels():
    lab.set_rotation(-45)
    lab.set_ha("left")
    lab.set_va("top")
    lab.set_rotation_mode("anchor")
    lab.set_transform(lab.get_transform() + shift)

for side in ("left", "bottom"):
    ax.spines[side].set_color("black")
    ax.spines[side].set_linewidth(1.2)
for side in ("top", "right"):
    ax.spines[side].set_color("#808080")
    ax.spines[side].set_linewidth(1.5)

ax.set_ylabel("Perchlorate (mg/l)", fontsize=21.5, fontweight="bold", labelpad=14)
ax.set_xlabel("Date", fontsize=21.5, fontweight="bold", labelpad=21)

# legend: white box drawn separately, entries laid out inside it
ax.add_patch(Rectangle((0.352, 0.6452), 0.5543, 0.1461, transform=ax.transAxes,
                       facecolor="white", edgecolor="black", lw=1.2, zorder=5))
order = ["PC-121", "PC-118", "PC-116R", "PC-120", "PC-115R", "PC-117",
         "PC-119", "PC-99R2/R3", "PC-133"]
leg = ax.legend([handles[n] for n in order], order, ncol=3, loc="center",
                bbox_to_anchor=(0.379, 0.615, 0.506, 0.2), mode="expand",
                fontsize=19.5, frameon=False, numpoints=1, handlelength=2.1,
                handletextpad=0.2, borderaxespad=0, borderpad=0, labelspacing=0.75)
leg.set_zorder(6)

# "See Fig 29A" marker
ax.plot([0.829, 0.829], [0.388, 0.472], transform=ax.transAxes, color="black", lw=1.5)
ax.annotate("", xy=(0.856, 0.428), xytext=(0.829, 0.428), xycoords="axes fraction",
            arrowprops=dict(arrowstyle="-|>", color="black", lw=1.5, mutation_scale=24))
ax.text(0.875, 0.423, "See Fig 29A", transform=ax.transAxes, fontsize=15,
        ha="left", va="center")

# outer chart frame
fig.patches.append(Rectangle((6 / 1795, -0.1), 1.2, 1.1 - 8 / 1229, transform=fig.transFigure,
                             fill=False, edgecolor="black", lw=1.2))

fig.savefig("out.png", dpi=100)
